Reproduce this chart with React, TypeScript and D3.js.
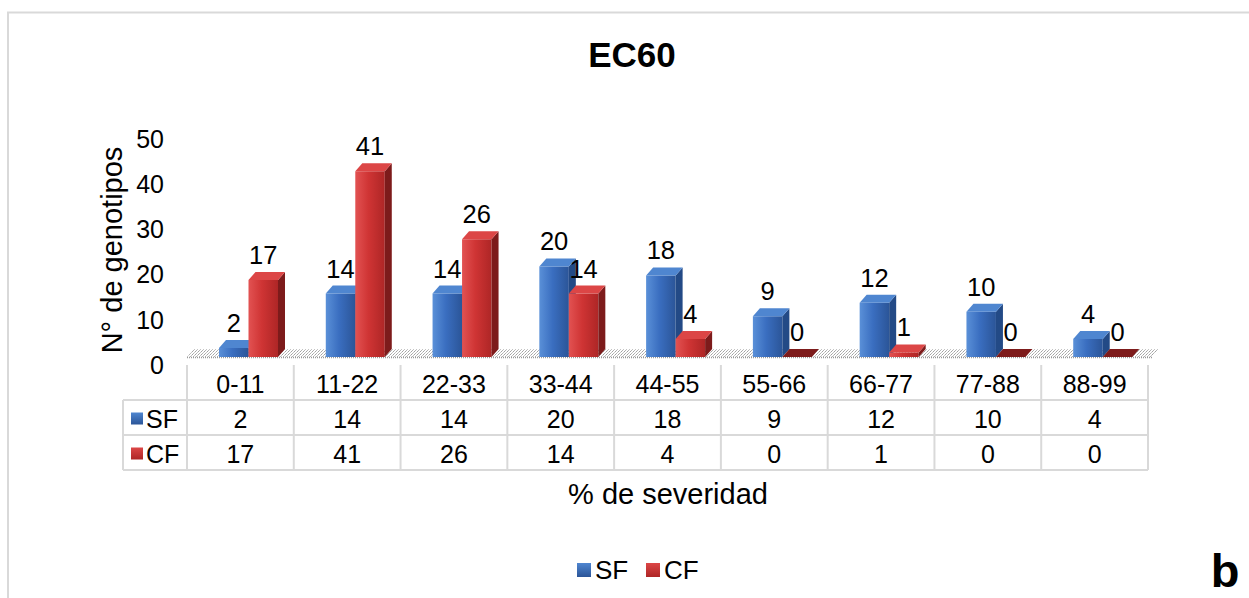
import React from "react";
import * as d3 from "d3";

// Severity classes and genotype counts per treatment
const categories = ["0-11", "11-22", "22-33", "33-44", "44-55", "55-66", "66-77", "77-88", "88-99"];
const seriesNames = ["SF", "CF"];
const sfValues = [2, 14, 14, 20, 18, 9, 12, 10, 4];
const cfValues = [17, 41, 26, 14, 4, 0, 1, 0, 0];
const yTicks = [0, 10, 20, 30, 40, 50];

const W = 1249;
const H = 598;
const FONT = "'Liberation Sans', Arial, Helvetica, sans-serif";

// plot geometry
const plotLeft = 187;
const plotRight = 1148;
const baseY = 357;
const depthX = 7;
const depthY = 8;

const palette: Record<string, { front: [string, string, string]; side: string; top: string }> = {
  SF: { front: ["#5a90d8", "#3a6ec0", "#2b5598"], side: "#234a86", top: "#4f86d0" },
  CF: { front: ["#e25252", "#cf3434", "#ae2626"], side: "#7d1b1b", top: "#dc4646" },
};

export default function App() {
  const x = d3.scaleBand<string>().domain(categories).range([plotLeft, plotRight]).padding(0);
  const bw = x.bandwidth();
  const inner = d3.scaleBand<string>().domain(seriesNames).range([32, 32 + 59]).padding(0);
  const y = d3.scaleLinear().domain([0, 50]).range([baseY, baseY - 226.5]);

  const rows = [
    { name: "SF", values: sfValues },
    { name: "CF", values: cfValues },
  ];

  const bars = categories.flatMap((c, i) =>
    rows.map((r) => ({ cat: c, series: r.name, value: r.values[i] }))
  );

  const tableTop = 365;
  const rowH = 35;
  const tableLeft = 123;
  const lineColor = "#d9d9d9";

  return (
    <svg width={W} height={H} style={{ display: "block", position: "absolute", left: 0, top: 0 }} fontFamily={FONT}>
      <defs>
        {seriesNames.map((s) => (
          <linearGradient key={s} id={`front-${s}`} x1="0" x2="1" y1="0" y2="0">
            <stop offset="0" stopColor={palette[s].front[0]} />
            <stop offset="0.45" stopColor={palette[s].front[1]} />
            <stop offset="1" stopColor={palette[s].front[2]} />
          </linearGradient>
        ))}
        <pattern id="floorDots" width="3" height="3" patternUnits="userSpaceOnUse">
          <rect width="3" height="3" fill="#ffffff" />
          <rect x="0" y="0" width="1" height="1" fill="#8a8a8a" />
          <rect x="2" y="1" width="1" height="1" fill="#b4b4b4" />
          <rect x="1" y="2" width="1" height="1" fill="#a0a0a0" />
        </pattern>
        {seriesNames.map((s) => (
          <linearGradient key={`k${s}`} id={`key-${s}`} x1="0" x2="0" y1="0" y2="1">
            <stop offset="0" stopColor={palette[s].top} />
            <stop offset="1" stopColor={palette[s].front[2]} />
          </linearGradient>
        ))}
      </defs>

      <rect x={0} y={0} width={W} height={H} fill="#ffffff" />
      {/* chart area border (open to the right and bottom) */}
      <path d={`M8,${H} L8,12.5 L${W},12.5`} fill="none" stroke="#d9d9d9" strokeWidth={2} />

      <text x={632} y={67} textAnchor="middle" fontSize={35} fontWeight="bold" fill="#000">
        EC60
      </text>

      {/* floor */}
      <path
        d={`M${plotLeft},${baseY} L${plotRight + 4},${baseY} L${plotRight + 4 + depthX},${baseY - depthY} L${plotLeft + depthX},${baseY - depthY} Z`}
        fill="url(#floorDots)"
        opacity={0.8}
      />
      <line x1={plotLeft} x2={plotRight + 4} y1={baseY + 0.5} y2={baseY + 0.5} stroke="#9a9a9a" strokeWidth={1.5} strokeDasharray="1 1" />

      {/* y axis tick labels */}
      {yTicks.map((t) => (
        <text key={t} x={164} y={y(t) + 8} textAnchor="end" dominantBaseline="central" fontSize={25} fill="#000">
          {t}
        </text>
      ))}

      <text
        transform={`translate(112,${250}) rotate(-90)`}
        textAnchor="middle"
        dominantBaseline="central"
        fontSize={29}
        fill="#000"
      >
        N° de genotipos
      </text>

      {/* 3D bars */}
      {bars.map((b) => {
        const x0 = (x(b.cat) as number) + (inner(b.series) as number);
        const w = inner.bandwidth();
        const yTop = y(b.value);
        const p = palette[b.series];
        const front = `M${x0},${baseY} L${x0},${yTop} L${x0 + w},${yTop} L${x0 + w},${baseY} Z`;
        const side = `M${x0 + w},${baseY} L${x0 + w},${yTop} L${x0 + w + depthX},${yTop - depthY} L${x0 + w + depthX},${baseY - depthY} Z`;
        const top = `M${x0},${yTop} L${x0 + depthX},${yTop - depthY} L${x0 + w + depthX},${yTop - depthY} L${x0 + w},${yTop} Z`;
        return (
          <g key={`${b.cat}-${b.series}`}>
            {b.value > 0 && <path d={front} fill={`url(#front-${b.series})`} />}
            {b.value > 0 && <path d={side} fill={p.side} />}
            <path d={top} fill={b.value > 0 ? p.top : p.side} />
            <text
              x={x0 + w / 2}
              y={yTop - depthY - 8}
              textAnchor="middle"
              fontSize={25.5}
              fill="#000"
            >
              {b.value}
            </text>
          </g>
        );
      })}

      {/* data table */}
      <g>
        {categories.map((c) => (
          <text
            key={c}
            x={(x(c) as number) + bw / 2}
            y={tableTop + rowH / 2 + 1}
            textAnchor="middle"
            dominantBaseline="central"
            fontSize={25}
            fill="#000"
          >
            {c}
          </text>
        ))}
        {rows.map((r, ri) => {
          const cy = tableTop + rowH * (ri + 1) + rowH / 2 + 1;
          return (
            <g key={r.name}>
              <rect x={131} y={cy - 6} width={12} height={12} fill={`url(#key-${r.name})`} />
              <text x={146} y={cy} dominantBaseline="central" fontSize={25} fill="#000">
                {r.name}
              </text>
              {r.values.map((v, i) => (
                <text
                  key={i}
                  x={(x(categories[i]) as number) + bw / 2}
                  y={cy}
                  textAnchor="middle"
                  dominantBaseline="central"
                  fontSize={25}
                  fill="#000"
                >
                  {v}
                </text>
              ))}
            </g>
          );
        })}
        {/* grid lines */}
        {[0, 1, 2].map((k) => (
          <line
            key={`h${k}`}
            x1={tableLeft}
            x2={plotRight}
            y1={tableTop + rowH * (k + 1)}
            y2={tableTop + rowH * (k + 1)}
            stroke={lineColor}
            strokeWidth={2}
          />
        ))}
        {d3.range(categories.length + 1).map((k) => (
          <line
            key={`v${k}`}
            x1={plotLeft + k * bw}
            x2={plotLeft + k * bw}
            y1={tableTop}
            y2={tableTop + rowH * 3}
            stroke={lineColor}
            strokeWidth={2}
          />
        ))}
        <line x1={tableLeft} x2={tableLeft} y1={tableTop + rowH} y2={tableTop + rowH * 3} stroke={lineColor} strokeWidth={2} />
      </g>

      <text x={668} y={504} textAnchor="middle" fontSize={29} fill="#000">
        % de severidad
      </text>

      {/* legend */}
      {seriesNames.map((s, i) => {
        const lx = 577 + i * 69;
        return (
          <g key={s}>
            <rect x={lx} y={563} width={14} height={14} fill={`url(#key-${s})`} />
            <text x={lx + 18} y={570} dominantBaseline="central" fontSize={26} fill="#000">
              {s}
            </text>
          </g>
        );
      })}

      <text x={1225} y={587} textAnchor="middle" fontSize={47} fontWeight="bold" fill="#000">
        b
      </text>
    </svg>
  );
}
